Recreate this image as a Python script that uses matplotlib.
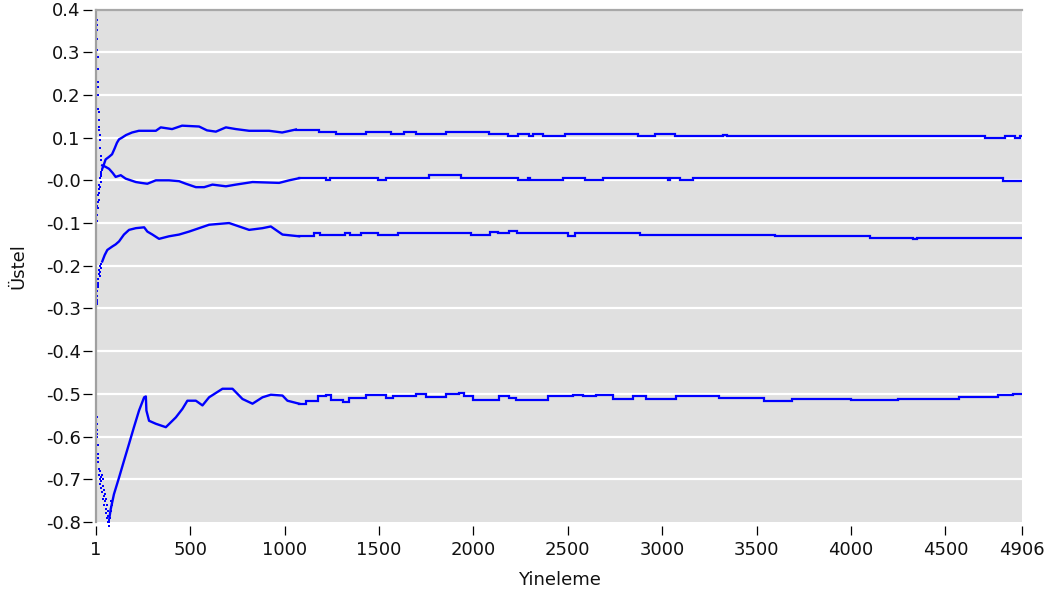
import matplotlib
matplotlib.use("Agg")
import matplotlib.pyplot as plt

# ---- data: four exponent estimates versus iteration ----
# Early, widely scattered samples (drawn as isolated dots)
a_early_it = [1, 2, 4, 6, 8, 10, 12, 13, 15, 16, 18, 19, 21, 22, 25, 27, 28, 30, 32]
a_early_val = [-0.125, -0.11, -0.095, -0.08, -0.06, -0.05, -0.065, -0.035, -0.045, -0.02, -0.03,
               -0.01, -0.015, 0.005, 0.015, -0.005, 0.02, 0.01, 0.025]

b_early_it = [1, 2, 3, 4, 5, 6, 7, 8, 9, 10, 11, 12, 13, 14, 15, 16, 17, 18, 20, 22, 24, 27, 30]
b_early_val = [0.40, 0.392, 0.385, 0.375, 0.363, 0.352, 0.33, 0.305, 0.288, 0.26, 0.23, 0.218, 0.2,
               0.166, 0.159, 0.142, 0.124, 0.119, 0.107, 0.095, 0.076, 0.057, 0.048]

c_early_it = [1, 2, 3, 4, 5, 6, 7, 8, 9, 10, 12, 14, 16, 17, 20, 22, 24, 27, 30]
c_early_val = [-0.31, -0.33, -0.30, -0.29, -0.28, -0.27, -0.285, -0.26, -0.25, -0.245, -0.23, -0.24,
               -0.22, -0.21, -0.2, -0.225, -0.215, -0.205, -0.195]

d_early_it = [1, 2, 3, 4, 5, 6, 7, 8, 9, 10, 12, 14, 16, 18, 20, 22, 24, 26, 28, 30, 32, 34, 36,
              38, 40, 42, 44, 46, 48, 50, 52, 54, 56, 58, 60, 62, 64, 66, 68, 70, 72, 74, 76,
              78, 80, 82, 84]
d_early_val = [-0.39, -0.44, -0.535, -0.555, -0.57, -0.585, -0.60, -0.595, -0.62, -0.64, -0.66,
               -0.65, -0.675, -0.69, -0.70, -0.68, -0.71, -0.695, -0.72, -0.705, -0.69, -0.73,
               -0.715, -0.70, -0.745, -0.725, -0.74, -0.76, -0.735, -0.75, -0.77, -0.745, -0.78,
               -0.76, -0.79, -0.775, -0.80, -0.785, -0.81, -0.795, -0.80, -0.78, -0.79, -0.765,
               -0.775, -0.75, -0.76]

# Transient phase (joined by straight segments)
a_trans_it = [35, 45, 52, 70, 86, 100, 112, 123, 139, 160, 192, 228, 318, 344, 404, 457, 547,
              589, 636, 689, 742, 812, 918, 987, 1060]
a_trans_val = [0.028, 0.04, 0.049, 0.055, 0.061, 0.075, 0.088, 0.096, 0.100, 0.106, 0.112, 0.116,
               0.116, 0.124, 0.120, 0.128, 0.126, 0.117, 0.114, 0.124, 0.120, 0.116, 0.116,
               0.112, 0.119]

b_trans_it = [34, 50, 70, 90, 105, 132, 158, 185, 212, 240, 273, 318, 388, 441, 477, 530, 574,
              618, 689, 742, 830, 971, 1024, 1077]
b_trans_val = [0.035, 0.032, 0.027, 0.017, 0.008, 0.012, 0.004, 0.0, -0.004, -0.006, -0.008, 0.0,
               0.0, -0.002, -0.008, -0.016, -0.016, -0.010, -0.014, -0.010, -0.004, -0.006, 0.0,
               0.005]

c_trans_it = [34, 47, 61, 87, 105, 123, 149, 176, 212, 256, 273, 300, 335, 388, 441, 494, 547,
              600, 706, 759, 812, 883, 927, 989, 1077]
c_trans_val = [-0.190, -0.175, -0.163, -0.155, -0.150, -0.143, -0.127, -0.116, -0.112, -0.110,
               -0.120, -0.127, -0.137, -0.131, -0.127, -0.120, -0.112, -0.104, -0.100, -0.108,
               -0.116, -0.112, -0.108, -0.127, -0.131]

d_trans_it = [72, 79, 96, 123, 149, 176, 202, 229, 256, 265, 268, 282, 318, 371, 424, 459, 485,
              530, 565, 600, 671, 724, 777, 830, 883, 927, 989, 1015, 1077]
d_trans_val = [-0.79, -0.770, -0.735, -0.696, -0.657, -0.617, -0.578, -0.539, -0.508, -0.506,
               -0.539, -0.563, -0.570, -0.578, -0.555, -0.535, -0.516, -0.516, -0.527, -0.508,
               -0.488, -0.488, -0.512, -0.523, -0.508, -0.502, -0.504, -0.516, -0.523]

# Converged phase (value held until the next change)
a_it = [1060, 1183, 1272, 1431, 1564, 1634, 1696, 1855, 2085, 2182, 2235, 2297, 2315, 2368,
        2483, 2872, 2960, 3066, 3320, 3345, 4710, 4816, 4868, 4895, 4906]
a_val = [0.119, 0.113, 0.109, 0.113, 0.109, 0.113, 0.109, 0.113, 0.109, 0.104, 0.109, 0.104,
         0.109, 0.104, 0.109, 0.104, 0.109, 0.104, 0.107, 0.104, 0.099, 0.104, 0.099, 0.104, 0.104]

b_it = [1077, 1219, 1240, 1493, 1537, 1767, 1935, 2235, 2288, 2300, 2474, 2589, 2686, 3031,
        3040, 3093, 3163, 4805, 4906]
b_val = [0.005, 0.0, 0.005, 0.0, 0.005, 0.012, 0.005, 0.0, 0.005, 0.0, 0.005, 0.0, 0.005, 0.0,
         0.005, 0.0, 0.005, -0.002, -0.002]

c_it = [1077, 1157, 1190, 1320, 1345, 1405, 1495, 1600, 1990, 2090, 2130, 2190, 2230, 2500,
        2540, 2880, 3600, 4100, 4330, 4350, 4906]
c_val = [-0.131, -0.123, -0.129, -0.123, -0.127, -0.123, -0.127, -0.123, -0.127, -0.121, -0.123,
         -0.119, -0.123, -0.131, -0.123, -0.127, -0.131, -0.135, -0.137, -0.135, -0.135]

d_it = [1077, 1113, 1175, 1219, 1246, 1307, 1343, 1431, 1537, 1572, 1696, 1749, 1855, 1926,
        1952, 1997, 2138, 2191, 2226, 2394, 2527, 2580, 2651, 2739, 2845, 2916, 3075, 3300,
        3540, 3690, 4000, 4250, 4570, 4780, 4860, 4906]
d_val = [-0.523, -0.516, -0.506, -0.502, -0.514, -0.520, -0.509, -0.502, -0.509, -0.504, -0.500,
         -0.508, -0.500, -0.498, -0.504, -0.514, -0.505, -0.509, -0.514, -0.506, -0.502, -0.505,
         -0.502, -0.513, -0.506, -0.513, -0.506, -0.509, -0.516, -0.513, -0.514, -0.511, -0.507,
         -0.503, -0.500, -0.500]

x_ticks = [1, 500, 1000, 1500, 2000, 2500, 3000, 3500, 4000, 4500, 4906]
y_ticks = [0.4, 0.3, 0.2, 0.1, 0.0, -0.1, -0.2, -0.3, -0.4, -0.5, -0.6, -0.7, -0.8]
y_tick_labels = ["0.4", "0.3", "0.2", "0.1", "-0.0", "-0.1", "-0.2", "-0.3", "-0.4",
                 "-0.5", "-0.6", "-0.7", "-0.8"]

# ---- figure ----
plt.rcParams["font.family"] = ["DejaVu Sans"]
W, H = 1053, 603
fig = plt.figure(figsize=(W / 100, H / 100), dpi=100)
fig.patch.set_facecolor("white")
top_px, bottom_px, left_px, right_px = 9.5, 522, 96, 1022
ax = fig.add_axes([left_px / W, 1 - bottom_px / H, (right_px - left_px) / W,
                   (bottom_px - top_px) / H])
ax.set_facecolor("#e0e0e0")
ax.set_xlim(1, 4906)
ax.set_ylim(-0.8, 0.4)

# horizontal white grid lines (interior ticks only)
ax.hlines(y_ticks[1:-1], 1, 4906, colors="white", lw=1.6, zorder=1)

blue = "#0000ff"
for it, val in [(a_trans_it, a_trans_val), (b_trans_it, b_trans_val),
                (c_trans_it, c_trans_val), (d_trans_it, d_trans_val)]:
    ax.plot(it, val, color=blue, lw=1.7, zorder=3)
for it, val in [(a_it, a_val), (b_it, b_val), (c_it, c_val), (d_it, d_val)]:
    ax.plot(it, val, drawstyle="steps-post", color=blue, lw=1.6, zorder=3,
            solid_joinstyle="miter")
for it, val in [(a_early_it, a_early_val), (b_early_it, b_early_val),
                (c_early_it, c_early_val), (d_early_it, d_early_val)]:
    ax.plot(it, val, ls="none", marker="s", ms=1.9, mew=0, color=blue, zorder=3, clip_on=False)

# frame: grey left/top edges, ticks offset from the plot area
for side in ["left", "right", "top", "bottom"]:
    ax.spines[side].set_visible(False)
ax.spines["left"].set_position(("outward", 3))
ax.spines["bottom"].set_position(("outward", 3))
ax.plot([0, 0], [0, 1], transform=ax.transAxes, color="#a0a0a0", lw=1.6, clip_on=False, zorder=4)
ax.plot([0, 1], [1, 1], transform=ax.transAxes, color="#a8a8a8", lw=1.6, clip_on=False, zorder=4)

ax.set_xticks(x_ticks)
ax.set_xticklabels([str(v) for v in x_ticks])
ax.set_yticks(y_ticks)
ax.set_yticklabels(y_tick_labels)
ax.tick_params(axis="both", direction="out", length=6.5, width=0.9, color="black",
               labelsize=13, labelcolor="#111111")
ax.tick_params(axis="y", pad=1.5)
ax.tick_params(axis="x", pad=4)

ax.set_xlabel("Yineleme", fontsize=13, color="#111111", labelpad=9)
ax.set_ylabel("Üstel", fontsize=13, color="#111111", labelpad=13)

fig.savefig("out.png", dpi=100, facecolor="white")
